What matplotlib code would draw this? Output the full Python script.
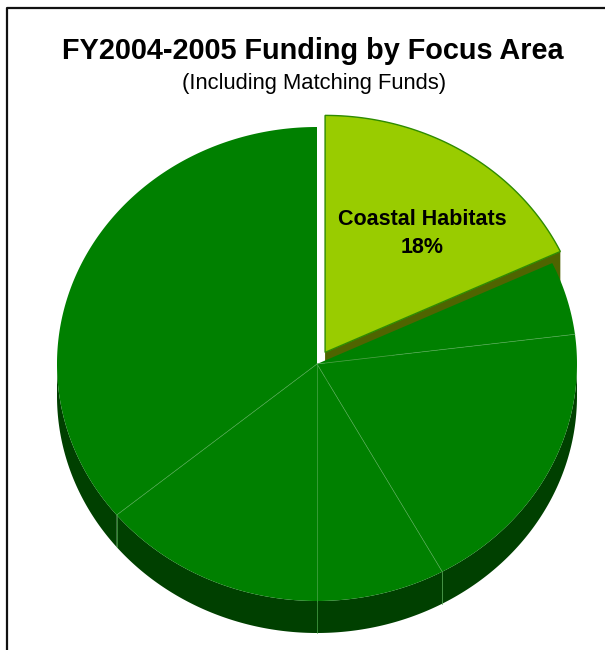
import numpy as np
import matplotlib
matplotlib.use("Agg")
import matplotlib.pyplot as plt
from matplotlib.patches import Polygon
from matplotlib.lines import Line2D


TITLE = "FY2004-2005 Funding by Focus Area"
SUBTITLE = "(Including Matching Funds)"

# percent share of each focus area, clockwise from 12 o'clock
shares = [18, 5, 19, 8, 14, 36]
slice_labels = ["Coastal Habitats", "", "", "", "", ""]
exploded = [True, False, False, False, False, False]

TOP_GREEN = "#008000"
SIDE_GREEN = "#004000"
HIGHLIGHT = "#99cc00"
HIGHLIGHT_WALL = "#4f6400"
EDGE_LINE = "#4da64d"

# pie layout, in pixels
CX, CY = 317, 364
RX, RY = 260, 237
DEPTH = 32
EXPLODE = 0.058


def rim_point(angle, dx=0.0, dy=0.0):
    a = np.radians(angle)
    return CX + dx + RX * np.sin(a), CY + dy - RY * np.cos(a)


def arc(a0, a1, dx=0.0, dy=0.0):
    n = max(int(abs(a1 - a0)) * 2, 2)
    angs = np.linspace(a0, a1, n)
    return [rim_point(a, dx, dy) for a in angs]


def make_chart():
    fig = plt.figure(figsize=(6.05, 6.5), dpi=100)
    ax = fig.add_axes([0, 0, 1, 1])
    ax.set_xlim(0, 605)
    ax.set_ylim(650, 0)
    ax.axis("off")

    bounds = np.concatenate([[0], np.cumsum(shares)]) / np.sum(shares) * 360.0

    # exploded slices go first (they sit behind the rest)
    for i, share in enumerate(shares):
        if not exploded[i]:
            continue
        a0, a1 = bounds[i], bounds[i + 1]
        mid = np.radians((a0 + a1) / 2)
        dx = EXPLODE * RX * np.sin(mid)
        dy = -EXPLODE * RY * np.cos(mid)
        apex = (CX + dx, CY + dy)
        outer = rim_point(a1, dx, dy)
        wall = [apex, outer, (outer[0], outer[1] + DEPTH), (apex[0], apex[1] + DEPTH)]
        ax.add_patch(Polygon(wall, closed=True, facecolor=HIGHLIGHT_WALL,
                             edgecolor="none"))
        top = [apex] + arc(a0, a1, dx, dy)
        ax.add_patch(Polygon(top, closed=True, facecolor=HIGHLIGHT,
                             edgecolor="#2e8b00", linewidth=1.0))
        tx, ty = rim_point((a0 + a1) / 2, dx, dy)
        ax.text(apex[0] + (tx - apex[0]) * 0.7, apex[1] + (ty - apex[1]) * 0.7 + 21,
                f"{slice_labels[i]}\n{share}%", ha="center", va="center",
                fontsize=15.5, fontweight="bold", family="Liberation Sans",
                linespacing=1.45)

    # side walls of the main pie (front half only)
    for i in range(len(shares)):
        if exploded[i]:
            continue
        a0 = max(bounds[i], 90)
        a1 = min(bounds[i + 1], 270)
        if a1 <= a0:
            continue
        pts = arc(a0, a1)
        low = [(x, y + DEPTH) for x, y in pts[::-1]]
        ax.add_patch(Polygon(pts + low, closed=True, facecolor=SIDE_GREEN,
                             edgecolor="none"))

    for b in bounds[1:-1]:
        if 90 < b < 270:
            x, y = rim_point(b)
            ax.add_line(Line2D([x, x], [y, y + DEPTH], color=EDGE_LINE,
                               linewidth=0.5))

    # top faces of the main pie
    for i in range(len(shares)):
        if exploded[i]:
            continue
        top = [(CX, CY)] + arc(bounds[i], bounds[i + 1])
        ax.add_patch(Polygon(top, closed=True, facecolor=TOP_GREEN,
                             edgecolor="none"))

    for k, b in enumerate(bounds[1:-1], start=1):
        if exploded[k - 1] or exploded[k]:
            continue
        x, y = rim_point(b)
        ax.add_line(Line2D([CX, x], [CY, y], color=EDGE_LINE, linewidth=0.5))

    # chart frame (only top and left visible)
    ax.add_line(Line2D([7, 7, 610], [660, 8, 8], color="#111111", linewidth=1.6))

    ax.text(313, 51, TITLE, ha="center", va="center", fontsize=20.8,
            fontweight="bold", family="Liberation Sans")
    ax.text(314, 83, SUBTITLE, ha="center", va="center", fontsize=15.8,
            family="Liberation Sans")

    fig.savefig("out.png", dpi=100)
    plt.close(fig)


if __name__ == "__main__":
    make_chart()
